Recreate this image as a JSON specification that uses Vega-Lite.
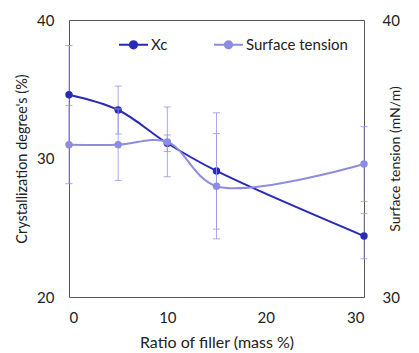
{
  "$schema": "https://vega.github.io/schema/vega-lite/v6.json",
  "width": 295,
  "height": 277,
  "autosize": "none",
  "padding": {"left": 69, "top": 20, "right": 55, "bottom": 56},
  "config": {
    "font": "Lato",
    "view": {"stroke": "#555"},
    "axis": {"grid": false, "ticks": false, "domain": false, "labelFontSize": 15, "titleFontSize": 14, "titleFontWeight": "normal", "labelColor": "#222", "titleColor": "#222"}
  },
  "data": {
    "values": [
      {"x": 0, "series": "Xc", "v": 34.6, "lo": 31.04, "hi": 38.16},
      {"x": 5, "series": "Xc", "v": 33.5, "lo": 31.77, "hi": 35.23},
      {"x": 10, "series": "Xc", "v": 31.1, "lo": 30.5, "hi": 31.7},
      {"x": 15, "series": "Xc", "v": 29.1, "lo": 24.9, "hi": 33.3},
      {"x": 30, "series": "Xc", "v": 24.4, "lo": 22.76, "hi": 26.04},
      {"x": 0, "series": "Surface tension", "v": 35.5, "lo": 34.09, "hi": 36.91},
      {"x": 5, "series": "Surface tension", "v": 35.5, "lo": 34.21, "hi": 36.79},
      {"x": 10, "series": "Surface tension", "v": 35.6, "lo": 34.34, "hi": 36.86},
      {"x": 15, "series": "Surface tension", "v": 34.0, "lo": 32.1, "hi": 35.9},
      {"x": 30, "series": "Surface tension", "v": 34.8, "lo": 33.45, "hi": 36.15}
    ]
  },
  "encoding": {
    "x": {"field": "x", "type": "quantitative", "scale": {"domain": [0, 30]}, "axis": {"values": [0, 10, 20, 30], "title": "Ratio of filler (mass %)", "titleFontSize": 16, "labelPadding": 13, "titlePadding": 9}}
  },
  "layer": [
    {
      "transform": [{"filter": "datum.series === 'Xc'"}],
      "encoding": {
        "y": {"field": "v", "type": "quantitative", "scale": {"domain": [20, 40]}, "axis": {"orient": "left", "values": [20, 30, 40], "title": "Crystallization degree's (%)", "titleFontSize": 14.5, "labelPadding": 15, "titlePadding": 7}}
      },
      "layer": [
        {"mark": {"type": "errorbar", "ticks": {"size": 7}, "color": "#9a9ae8", "opacity": 0.85}, "encoding": {"y": {"field": "lo", "type": "quantitative", "title": "Crystallization degree's (%)"}, "y2": {"field": "hi"}}},
        {"mark": {"type": "line", "interpolate": "catmull-rom", "strokeWidth": 2},
         "encoding": {"color": {"field": "series", "type": "nominal", "scale": {"domain": ["Xc", "Surface tension"], "range": ["#2a2ab8", "#8c8ce0"]},
           "legend": {"title": null, "orient": "none", "legendX": 49, "legendY": 9, "direction": "horizontal", "labelFontSize": 15, "labelColor": "#222", "symbolType": "M-1,0H1M-0.25,0A0.25,0.25,0,1,1,0.25,0A0.25,0.25,0,1,1,-0.25,0Z", "symbolSize": 841, "symbolStrokeWidth": 2, "labelOffset": 2, "columnPadding": 42,
             "encode": {"symbols": {"update": {"fill": {"scale": "color", "field": "value"}, "stroke": {"scale": "color", "field": "value"}, "strokeWidth": {"value": 2}}}}}}}},
        {"mark": {"type": "point", "filled": true, "size": 55, "opacity": 1, "color": "#2a2ab8"}}
      ]
    },
    {
      "transform": [{"filter": "datum.series === 'Surface tension'"}],
      "encoding": {
        "y": {"field": "v", "type": "quantitative", "scale": {"domain": [30, 40]}, "axis": {"orient": "right", "values": [30, 40], "title": "Surface tension (mN/m)", "titleAngle": -90, "labelPadding": 18, "titlePadding": 3}}
      },
      "layer": [
        {"mark": {"type": "errorbar", "ticks": {"size": 7}, "color": "#9a9ae8", "opacity": 0.85}, "encoding": {"y": {"field": "lo", "type": "quantitative", "title": "Surface tension (mN/m)"}, "y2": {"field": "hi"}}},
        {"mark": {"type": "line", "interpolate": "catmull-rom", "strokeWidth": 2},
         "encoding": {"color": {"field": "series", "type": "nominal", "scale": {"domain": ["Xc", "Surface tension"], "range": ["#2a2ab8", "#8c8ce0"]},
           "legend": {"title": null, "orient": "none", "legendX": 49, "legendY": 9, "direction": "horizontal", "labelFontSize": 15, "labelColor": "#222", "symbolType": "M-1,0H1M-0.25,0A0.25,0.25,0,1,1,0.25,0A0.25,0.25,0,1,1,-0.25,0Z", "symbolSize": 841, "symbolStrokeWidth": 2, "labelOffset": 2, "columnPadding": 42,
             "encode": {"symbols": {"update": {"fill": {"scale": "color", "field": "value"}, "stroke": {"scale": "color", "field": "value"}, "strokeWidth": {"value": 2}}}}}}}},
        {"mark": {"type": "point", "filled": true, "size": 55, "opacity": 1, "color": "#8c8ce0"}}
      ]
    }
  ],
  "resolve": {"scale": {"y": "independent"}}
}
